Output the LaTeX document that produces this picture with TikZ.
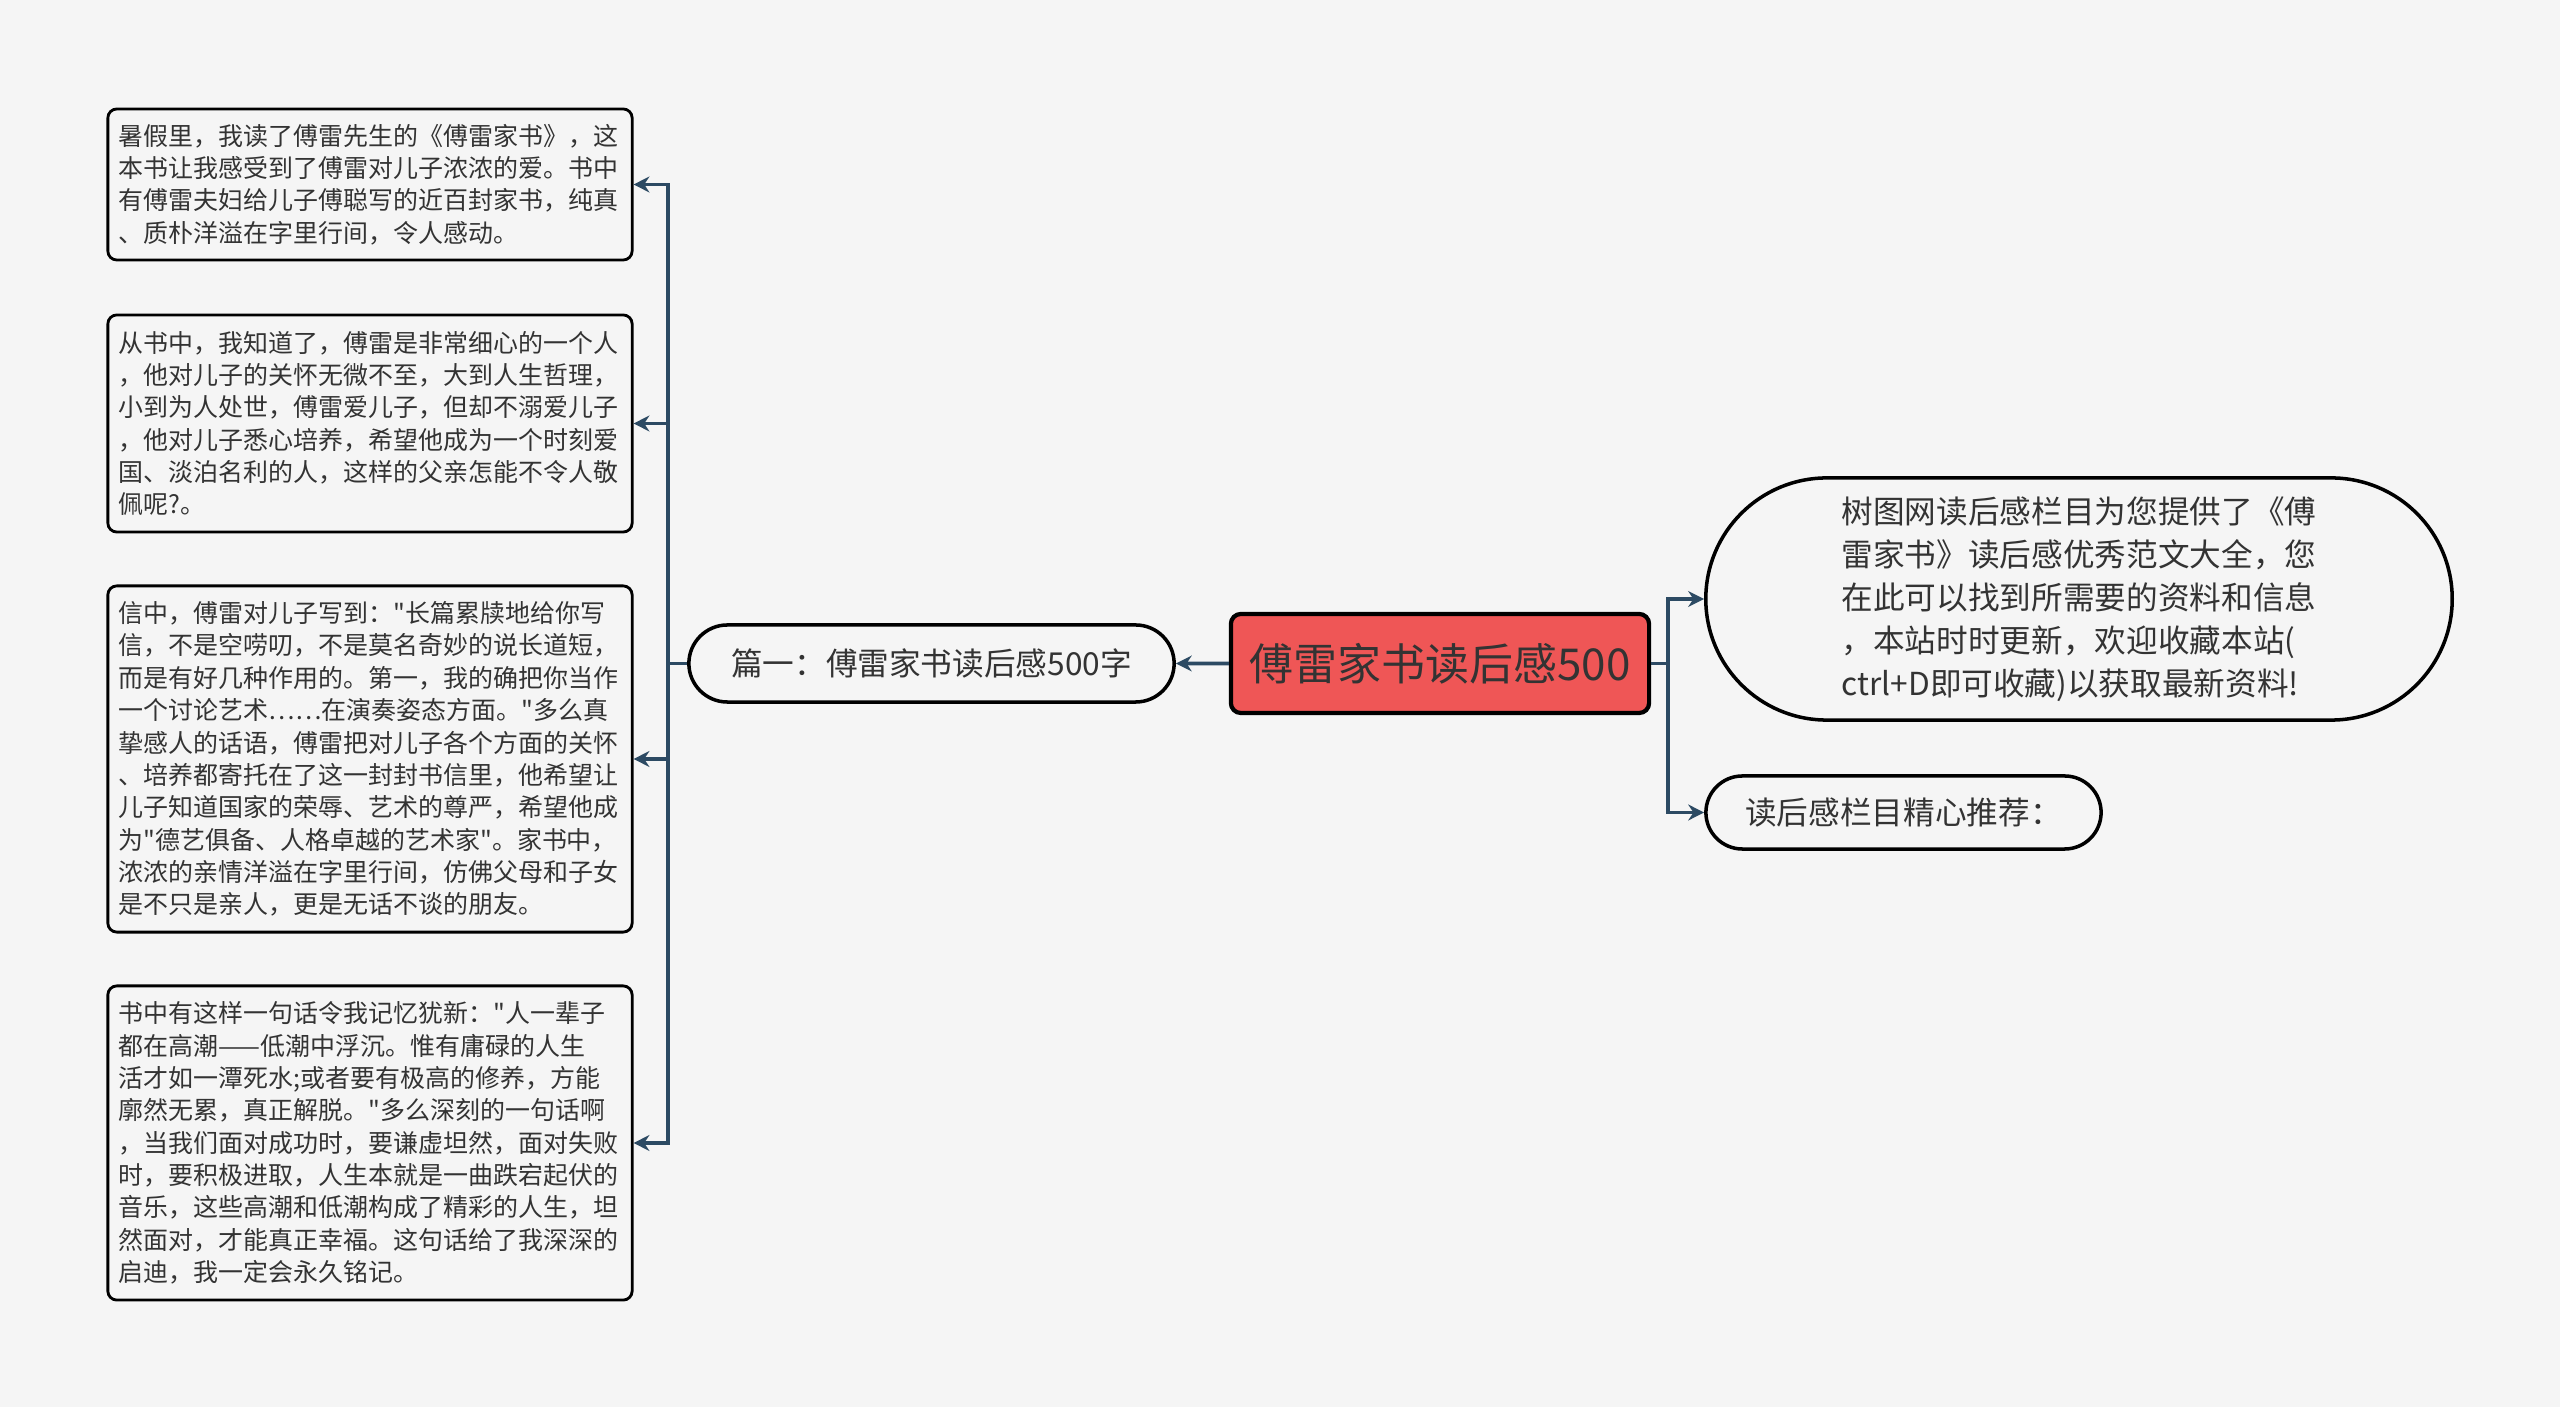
\documentclass[tikz,border=0pt]{standalone}
\usepackage{fontspec}
\setmainfont{Noto Sans CJK SC}[Ligatures=TeXOff]
\usetikzlibrary{arrows.meta,positioning,shapes.misc}
\definecolor{bgcol}{HTML}{F5F5F5}
\definecolor{linecol}{HTML}{2C4A63}
\definecolor{rootcol}{HTML}{EF5656}
\definecolor{txtcol}{HTML}{333333}

\begin{document}
\begin{tikzpicture}[
    x=0.01cm, y=-0.01cm,
    leaf/.style={draw, rectangle, rounded corners=0.09cm, line width=0.8pt,
        fill=bgcol, text=txtcol, text width=5.02cm, align=left,
        minimum width=5.24cm, inner sep=0pt, font=\fontsize{7.1}{9.2}\selectfont},
    pill/.style={draw, rounded rectangle, line width=1pt, fill=bgcol,
        text=txtcol, inner sep=0pt, font=\fontsize{9}{12.2}\selectfont},
    root/.style={draw, rectangle, rounded corners=0.1cm, line width=1.2pt,
        fill=rootcol, text=txtcol, minimum width=4.18cm, minimum height=0.99cm,
        font=\fontsize{12.5}{15}\selectfont},
    conn/.style={draw=linecol, line width=1pt},
    arrow/.style={conn, -{Stealth[length=4.5pt,width=4.5pt]}},
]

% Canvas
\useasboundingbox (0,0) rectangle (2560,1407);
\fill[bgcol] (0,0) rectangle (2560,1407);

% Root
\node[root] (root) at (1440,663.5) {傅雷家书读后感500};

% Left branch
\node[pill, minimum width=4.85cm, minimum height=0.77cm] (part) at (931.5,663.5) {篇一：傅雷家书读后感500字};

% Leaves
\node[leaf, minimum height=1.51cm] (summer) at (370,184.5) {暑假里，我读了傅雷先生的《傅雷家书》，这\\
本书让我感受到了傅雷对儿子浓浓的爱。书中\\
有傅雷夫妇给儿子傅聪写的近百封家书，纯真\\
、质朴洋溢在字里行间，令人感动。};

\node[leaf, minimum height=2.17cm] (detail) at (370,423.5) {从书中，我知道了，傅雷是非常细心的一个人\\
，他对儿子的关怀无微不至，大到人生哲理，\\
小到为人处世，傅雷爱儿子，但却不溺爱儿子\\
，他对儿子悉心培养，希望他成为一个时刻爱\\
国、淡泊名利的人，这样的父亲怎能不令人敬\\
佩呢?。};

\node[leaf, minimum height=3.46cm] (letter) at (370,759) {信中，傅雷对儿子写到："长篇累牍地给你写\\
信，不是空唠叨，不是莫名奇妙的说长道短，\\
而是有好几种作用的。第一，我的确把你当作\\
一个讨论艺术……在演奏姿态方面。"多么真\\
挚感人的话语，傅雷把对儿子各个方面的关怀\\
、培养都寄托在了这一封封书信里，他希望让\\
儿子知道国家的荣辱、艺术的尊严，希望他成\\
为"德艺俱备、人格卓越的艺术家"。家书中，\\
浓浓的亲情洋溢在字里行间，仿佛父母和子女\\
是不只是亲人，更是无话不谈的朋友。};

\node[leaf, minimum height=3.14cm] (quote) at (370,1143) {书中有这样一句话令我记忆犹新："人一辈子\\
都在高潮——低潮中浮沉。惟有庸碌的人生\\
活才如一潭死水;或者要有极高的修养，方能\\
廓然无累，真正解脱。"多么深刻的一句话啊\\
，当我们面对成功时，要谦虚坦然，面对失败\\
时，要积极进取，人生本就是一曲跌宕起伏的\\
音乐，这些高潮和低潮构成了精彩的人生，坦\\
然面对，才能真正幸福。这句话给了我深深的\\
启迪，我一定会永久铭记。};

% Right branch
\node[pill, align=left, minimum width=7.46cm, minimum height=2.42cm] (intro) at (2079,599) {树图网读后感栏目为您提供了《傅\\
雷家书》读后感优秀范文大全，您\\
在此可以找到所需要的资料和信息\\
，本站时时更新，欢迎收藏本站(\\
ctrl+D即可收藏)以获取最新资料!};

\node[pill, minimum width=3.95cm, minimum height=0.73cm] (recommend) at (1903.5,812.5) {读后感栏目精心推荐：};

% Forks
\coordinate (lfork) at (668,663.5);
\coordinate (rfork) at (1668,663.5);

% Connectors
\draw[arrow] (root) -- (part);
\draw[conn] (part.west) -- (lfork);
\draw[arrow] (lfork) |- (summer.east);
\draw[arrow] (lfork) |- (detail.east);
\draw[arrow] (lfork) |- (letter.east);
\draw[arrow] (lfork) |- (quote.east);
\draw[conn] (root.east) -- (rfork);
\draw[arrow] (rfork) |- (intro.west);
\draw[arrow] (rfork) |- (recommend.west);

\end{tikzpicture}
\end{document}
